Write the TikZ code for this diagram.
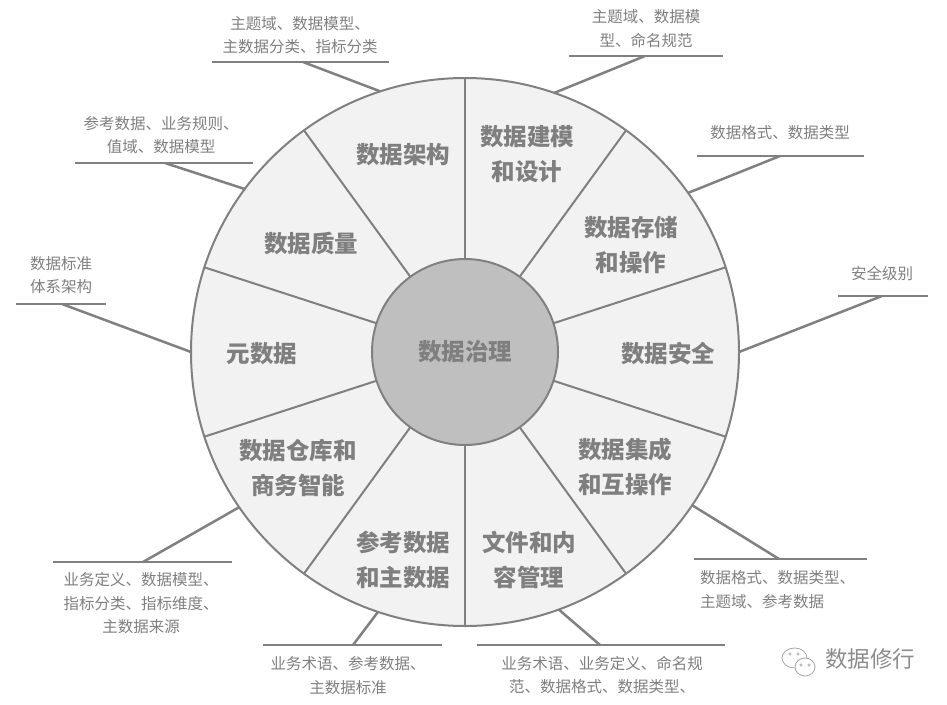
\documentclass[tikz,border=0pt]{standalone}
\usepackage{fontspec}
\setmainfont{Noto Sans CJK SC}
\definecolor{rimgray}{HTML}{808080}
\definecolor{sectorfill}{HTML}{F2F2F2}
\definecolor{hubfill}{HTML}{BFBFBF}
\definecolor{textgray}{HTML}{7F7F7F}
\tikzset{
  rim/.style={draw=rimgray, line width=2pt},
  spoke/.style={draw=rimgray, line width=2pt},
  leader/.style={draw=rimgray, line width=2.5pt},
  hub/.style={circle, rim, fill=hubfill, minimum size=186pt, inner sep=0pt,
    text=textgray, font=\fontsize{23.5}{35}\selectfont\bfseries},
  sectorlabel/.style={text=textgray, align=center, inner sep=0pt,
    font=\fontsize{23.5}{35}\selectfont\bfseries},
  notelabel/.style={text=textgray, align=center, inner sep=0pt,
    font=\fontsize{15.5}{23.5}\selectfont},
}
\begin{document}
\begin{tikzpicture}[x=1pt,y=-1pt]
        \useasboundingbox (0,0) rectangle (947,704);
        %% Wheel
        \coordinate (ctr) at (465,352);
        \draw[rim, fill=sectorfill] (ctr) circle (274);
        \foreach \a in {18,54,...,342}
            \draw[spoke] (ctr) -- ++ (\a:274);
        \node[hub] (hub) at (ctr) {数据治理};
        %% Sectors
        \node[sectorlabel] (arch) at (403,155) {数据架构};
        \node[sectorlabel] (model) at (527,154) {数据建模\\和设计};
        \node[sectorlabel] (store) at (631,245) {数据存储\\和操作};
        \node[sectorlabel] (secur) at (668,354) {数据安全};
        \node[sectorlabel] (integ) at (625,467) {数据集成\\和互操作};
        \node[sectorlabel] (docs) at (529,560) {文件和内\\容管理};
        \node[sectorlabel] (mdm) at (403,560) {参考数据\\和主数据};
        \node[sectorlabel] (dwbi) at (298,468) {数据仓库和\\商务智能};
        \node[sectorlabel] (meta) at (262,354) {元数据};
        \node[sectorlabel] (qual) at (311,243) {数据质量};
        %% Rim points of the leaders
        \path (ctr) ++ (-108:274) coordinate (archrim);
        \path (ctr) ++ (-71:274) coordinate (modelrim);
        \path (ctr) ++ (-35.5:274) coordinate (storerim);
        \path (ctr) ++ (0:274) coordinate (securrim);
        \path (ctr) ++ (34:274) coordinate (integrim);
        \path (ctr) ++ (70:274) coordinate (docsrim);
        \path (ctr) ++ (108.5:274) coordinate (mdmrim);
        \path (ctr) ++ (145.5:274) coordinate (dwbirim);
        \path (ctr) ++ (180:274) coordinate (metarim);
        \path (ctr) ++ (-143.5:274) coordinate (qualrim);
        %% Data architecture note
        \coordinate (archjoint) at (303,62);
        \draw[leader] (212,62) -- (389,62);
        \draw[leader] (archrim) -- (archjoint);
        \node[notelabel] (archnote) at (300,35) {主题域、数据模型、\\主数据分类、指标分类};
        %% Data modelling note
        \coordinate (modeljoint) at (645,56);
        \draw[leader] (569,56) -- (723,56);
        \draw[leader] (modelrim) -- (modeljoint);
        \node[notelabel] (modelnote) at (646,28.5) {主题域、数据模\\型、命名规范};
        %% Storage note
        \coordinate (storejoint) at (780,156);
        \draw[leader] (697,156) -- (864,156);
        \draw[leader] (storerim) -- (storejoint);
        \node[notelabel] (storenote) at (780,133) {数据格式、数据类型};
        %% Security note
        \coordinate (securjoint) at (882,296);
        \draw[leader] (838,296) -- (928,296);
        \draw[leader] (securrim) -- (securjoint);
        \node[notelabel] (securnote) at (882,274) {安全级别};
        %% Integration note
        \coordinate (integjoint) at (779,559);
        \draw[leader] (694,559) -- (867,559);
        \draw[leader] (integrim) -- (integjoint);
        \node[notelabel, align=left, anchor=west] (integnote) at (700,589.5) {数据格式、数据类型、\\主题域、参考数据};
        %% Document note
        \coordinate (docsjoint) at (600,645);
        \draw[leader] (477,645) -- (725,645);
        \draw[leader] (docsrim) -- (docsjoint);
        \node[notelabel] (docsnote) at (602,675) {业务术语、业务定义、命名规\\范、数据格式、数据类型、};
        %% Master data note
        \coordinate (mdmjoint) at (353,645);
        \draw[leader] (263,645) -- (442,645);
        \draw[leader] (mdmrim) -- (mdmjoint);
        \node[notelabel] (mdmnote) at (348,675.5) {业务术语、参考数据、\\主数据标准};
        %% Warehouse note
        \coordinate (dwbijoint) at (143,562);
        \draw[leader] (53,562) -- (232,562);
        \draw[leader] (dwbirim) -- (dwbijoint);
        \node[notelabel] (dwbinote) at (141,603.5) {业务定义、数据模型、\\指标分类、指标维度、\\主数据来源};
        %% Metadata note
        \coordinate (metajoint) at (62,304);
        \draw[leader] (16,304) -- (106,304);
        \draw[leader] (metarim) -- (metajoint);
        \node[notelabel] (metanote) at (61,275) {数据标准\\体系架构};
        %% Quality note
        \coordinate (qualjoint) at (165,163);
        \draw[leader] (75,163) -- (253,163);
        \draw[leader] (qualrim) -- (qualjoint);
        \node[notelabel] (qualnote) at (161,135) {参考数据、业务规则、\\值域、数据模型};
        %% Watermark
        \draw[draw=textgray!70, fill=white, line width=0.8pt] (794.5,658) ellipse [x radius=12.5, y radius=10];
        \draw[draw=textgray!70, fill=white, line width=0.8pt] (805,667) ellipse [x radius=10, y radius=9];
        \foreach \p in {(790,654),(798,654),(801,665),(809,665)}
            \draw[draw=textgray!70, line width=0.6pt] \p circle (1.3);
        \node[text=textgray!90, inner sep=0pt, font=\fontsize{22.5}{27}\selectfont] (mark) at (870,659) {数据修行};
    \end{tikzpicture}
\end{document}
